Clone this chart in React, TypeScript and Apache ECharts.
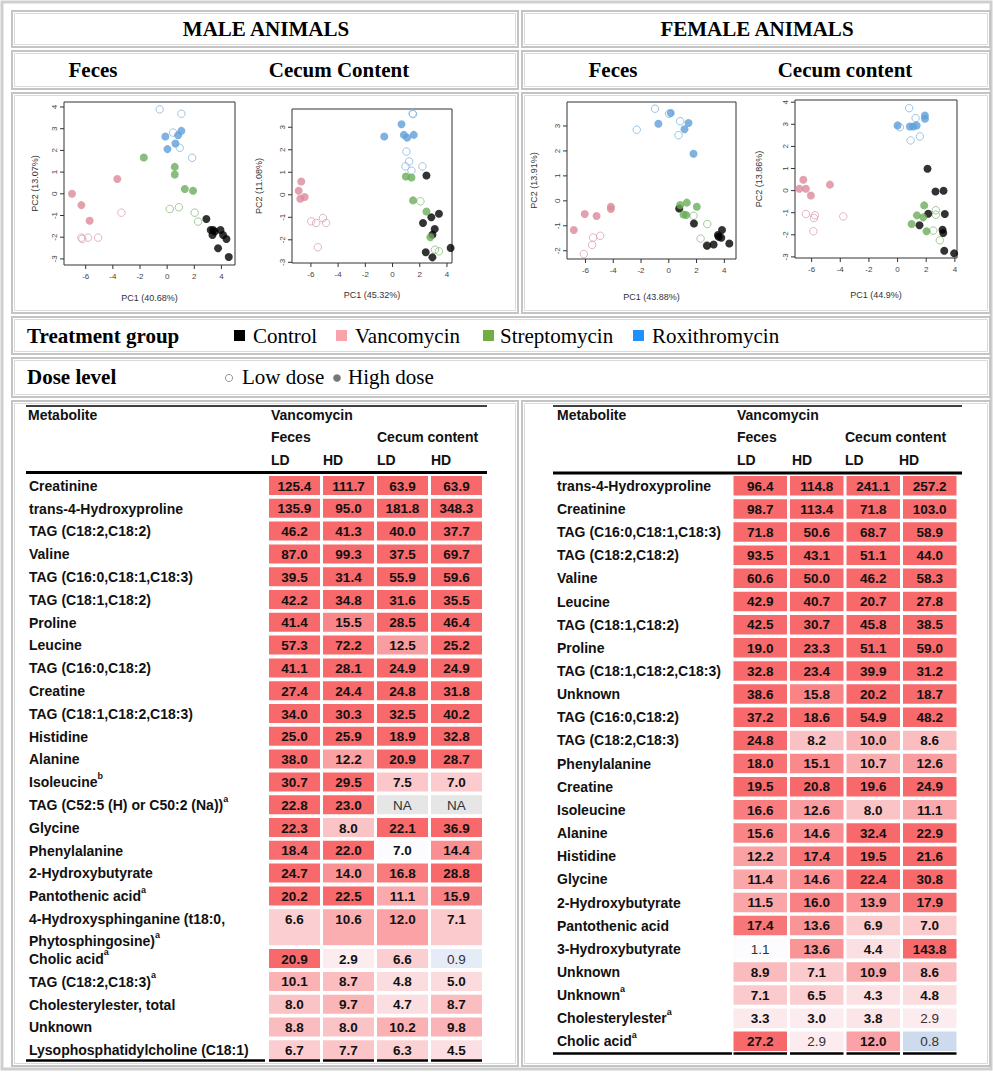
import React, { useEffect, useRef } from "react";
import * as echarts from "echarts";

// ---------------- PCA score plots: [PC1, PC2] ----------------
// Male, feces
const mfControl = [[2.89, -1.16], [3.21, -1.67], [3.39, -1.67], [3.34, -1.9], [3.93, -1.67], [4.12, -1.9], [4.37, -2.08], [3.75, -2.51], [4.54, -2.91], [3.5, -1.74]];
const mfVanHD = [[-7.01, 0.0], [-6.32, -0.52], [-5.71, -1.24], [-3.67, 0.68]];
const mfVanLD = [[-3.37, -0.87], [-6.32, -2.02], [-5.83, -2.02], [-5.09, -2.02], [-6.25, -2.08]];
const mfStrHD = [[-1.72, 1.67], [0.56, 1.24], [0.56, 0.89], [1.3, 0.22], [1.91, 0.14]];
const mfStrLD = [[0.19, -0.7], [0.86, -0.62], [2.03, -0.87], [2.28, -1.28]];
const mfRoxHD = [[-0.13, 2.64], [0.81, 2.7], [1.05, 2.9], [0.61, 2.32], [0.02, 2.06]];
const mfRoxLD = [[-0.55, 3.89], [1.05, 3.69], [0.44, 2.82], [0.93, 2.12], [1.84, 1.66]];
// Male, cecum content
const mcControl = [[2.49, 0.86], [3.41, -0.84], [2.85, -1.0], [2.24, -1.25], [3.1, -1.52], [2.93, -1.77], [2.44, -2.55], [2.93, -2.78], [4.27, -2.36]];
const mcVanHD = [[-6.71, 0.59], [-6.9, 0.18], [-6.78, -0.18], [-6.46, -0.1]];
const mcVanLD = [[-5.98, -1.18], [-5.61, -1.25], [-5.12, -1.03], [-4.88, -1.25], [-5.49, -2.33]];
const mcStrHD = [[0.98, 0.81], [1.39, 0.77], [1.51, -0.25], [2.49, -0.74], [2.78, -1.89]];
const mcStrLD = [[2.05, -0.29], [3.12, -2.44], [3.41, -2.51]];
const mcRoxHD = [[-0.61, 2.59], [0.66, 3.13], [0.83, 2.66], [1.07, 2.54], [1.56, 2.66]];
const mcRoxLD = [[1.51, 3.58], [1.47, 3.61], [1.02, 1.92], [1.22, 1.48], [0.95, 1.26], [1.39, 1.07], [2.2, 1.26]];
// Female, feces
const ffControl = [[0.75, -0.31], [1.81, -0.91], [2.75, -1.8], [3.23, -1.75], [3.54, -1.37], [3.78, -1.48], [3.83, -1.17], [4.36, -1.71], [3.59, -1.44]];
const ffVanHD = [[-6.84, -1.17], [-6.05, -0.53], [-5.2, -0.61], [-4.17, -0.24], [-4.17, -0.33]];
const ffVanLD = [[-5.45, -1.47], [-4.94, -1.4], [-5.52, -1.77], [-6.12, -2.13]];
const ffStrHD = [[0.82, -0.17], [1.3, -0.07], [2.02, -0.24], [1.06, -0.55], [1.25, -0.57]];
const ffStrLD = [[1.78, -0.6], [2.77, -0.93], [2.29, -1.51], [2.75, -1.77]];
const ffRoxHD = [[-0.75, 3.09], [0.14, 3.52], [1.42, 3.12], [1.13, 2.87], [1.78, 1.89]];
const ffRoxLD = [[-0.99, 3.69], [-2.31, 2.85], [0.02, 3.49], [0.82, 3.19], [0.7, 2.63]];
// Female, cecum content
const fcControl = [[2.09, 0.99], [2.65, -0.04], [3.21, -0.01], [2.14, -1.05], [3.3, -1.06], [1.53, -1.57], [3.14, -1.77], [3.19, -1.92], [3.26, -2.72], [3.95, -2.84]];
const fcVanHD = [[-6.58, 0.49], [-6.86, 0.08], [-6.4, 0.08], [-6.05, -0.22], [-4.72, 0.27]];
const fcVanLD = [[-6.4, -1.06], [-5.77, -1.12], [-5.84, -1.24], [-5.88, -1.84], [-3.79, -1.17]];
const fcStrHD = [[1.86, -0.67], [1.35, -1.12], [1.79, -1.21], [0.98, -1.51], [2.02, -1.84]];
const fcStrLD = [[2.67, -0.89], [2.67, -1.09], [2.49, -1.81], [2.95, -2.25]];
const fcRoxHD = [[0.0, 2.95], [0.86, 2.9], [1.09, 2.9], [1.33, 2.95], [1.91, 3.4], [1.91, 3.25]];
const fcRoxLD = [[0.81, 3.73], [1.26, 3.28], [0.16, 2.87], [1.56, 2.45], [0.91, 2.27]];

const PC_X_TICKS = [-6, -4, -2, 0, 2, 4];
const MF_Y_TICKS = [-3, -2, -1, 0, 1, 2, 3, 4];
const MC_Y_TICKS = [-3, -2, -1, 0, 1, 2, 3];
const FF_Y_TICKS = [-2, -1, 0, 1, 2, 3];
const FC_Y_TICKS = [-3, -2, -1, 0, 1, 2, 3, 4];
const PC1_TITLES = ["PC1 (40.68%)", "PC1 (45.32%)", "PC1 (43.88%)", "PC1 (44.9%)"];
const PC2_TITLES = ["PC2 (13.07%)", "PC2 (11.08%)", "PC2 (13.91%)", "PC2 (13.86%)"];

const SEX_HEADINGS = ["MALE ANIMALS", "FEMALE ANIMALS"];
const MALE_SAMPLE_TYPES = ["Feces", "Cecum Content"];
const FEMALE_SAMPLE_TYPES = ["Feces", "Cecum content"];
const TREATMENT_GROUPS = ["Control", "Vancomycin", "Streptomycin", "Roxithromycin"];
const DOSE_LEVELS = ["Low dose", "High dose"];

// ---------------- Tables (Vancomycin; Feces LD, HD; Cecum LD, HD) ----------------
const MALE_METABOLITES = [
  "Creatinine", "trans-4-Hydroxyproline", "TAG (C18:2,C18:2)", "Valine", "TAG (C16:0,C18:1,C18:3)",
  "TAG (C18:1,C18:2)", "Proline", "Leucine", "TAG (C16:0,C18:2)", "Creatine", "TAG (C18:1,C18:2,C18:3)",
  "Histidine", "Alanine", "Isoleucine", "TAG (C52:5 (H) or C50:2 (Na))", "Glycine", "Phenylalanine",
  "2-Hydroxybutyrate", "Pantothenic acid", "4-Hydroxysphinganine (t18:0,\nPhytosphingosine)", "Cholic acid",
  "TAG (C18:2,C18:3)", "Cholesterylester, total", "Unknown", "Lysophosphatidylcholine (C18:1)",
];
const MALE_SUPERSCRIPTS = ["", "", "", "", "", "", "", "", "", "", "", "", "", "b", "a", "", "", "", "a", "a", "a", "a", "", "", ""];
const MALE_FECES_LD = [125.4, 135.9, 46.2, 87.0, 39.5, 42.2, 41.4, 57.3, 41.1, 27.4, 34.0, 25.0, 38.0, 30.7, 22.8, 22.3, 18.4, 24.7, 20.2, 6.6, 20.9, 10.1, 8.0, 8.8, 6.7];
const MALE_FECES_HD = [111.7, 95.0, 41.3, 99.3, 31.4, 34.8, 15.5, 72.2, 28.1, 24.4, 30.3, 25.9, 12.2, 29.5, 23.0, 8.0, 22.0, 14.0, 22.5, 10.6, 2.9, 8.7, 9.7, 8.0, 7.7];
const MALE_CECUM_LD = [63.9, 181.8, 40.0, 37.5, 55.9, 31.6, 28.5, 12.5, 24.9, 24.8, 32.5, 18.9, 20.9, 7.5, null, 22.1, 7.0, 16.8, 11.1, 12.0, 6.6, 4.8, 4.7, 10.2, 6.3];
const MALE_CECUM_HD = [63.9, 348.3, 37.7, 69.7, 59.6, 35.5, 46.4, 25.2, 24.9, 31.8, 40.2, 32.8, 28.7, 7.0, null, 36.9, 14.4, 28.8, 15.9, 7.1, 0.9, 5.0, 8.7, 9.8, 4.5];
const MALE_NOT_BOLD = [[14, 2], [14, 3], [20, 3]];
const MALE_COLOUR_AS = [[16, 2, 1.0]];

const FEMALE_METABOLITES = [
  "trans-4-Hydroxyproline", "Creatinine", "TAG (C16:0,C18:1,C18:3)", "TAG (C18:2,C18:2)", "Valine", "Leucine",
  "TAG (C18:1,C18:2)", "Proline", "TAG (C18:1,C18:2,C18:3)", "Unknown", "TAG (C16:0,C18:2)", "TAG (C18:2,C18:3)",
  "Phenylalanine", "Creatine", "Isoleucine", "Alanine", "Histidine", "Glycine", "2-Hydroxybutyrate",
  "Pantothenic acid", "3-Hydroxybutyrate", "Unknown", "Unknown", "Cholesterylester", "Cholic acid",
];
const FEMALE_SUPERSCRIPTS = ["", "", "", "", "", "", "", "", "", "", "", "", "", "", "", "", "", "", "", "", "", "", "a", "a", "a"];
const FEMALE_FECES_LD = [96.4, 98.7, 71.8, 93.5, 60.6, 42.9, 42.5, 19.0, 32.8, 38.6, 37.2, 24.8, 18.0, 19.5, 16.6, 15.6, 12.2, 11.4, 11.5, 17.4, 1.1, 8.9, 7.1, 3.3, 27.2];
const FEMALE_FECES_HD = [114.8, 113.4, 50.6, 43.1, 50.0, 40.7, 30.7, 23.3, 23.4, 15.8, 18.6, 8.2, 15.1, 20.8, 12.6, 14.6, 17.4, 14.6, 16.0, 13.6, 13.6, 7.1, 6.5, 3.0, 2.9];
const FEMALE_CECUM_LD = [241.1, 71.8, 68.7, 51.1, 46.2, 20.7, 45.8, 51.1, 39.9, 20.2, 54.9, 10.0, 10.7, 19.6, 8.0, 32.4, 19.5, 22.4, 13.9, 6.9, 4.4, 10.9, 4.3, 3.8, 12.0];
const FEMALE_CECUM_HD = [257.2, 103.0, 58.9, 44.0, 58.3, 27.8, 38.5, 59.0, 31.2, 18.7, 48.2, 8.6, 12.6, 24.9, 11.1, 22.9, 21.6, 30.8, 17.9, 7.0, 143.8, 8.6, 4.8, 2.9, 0.8];
const FEMALE_NOT_BOLD = [[20, 0], [23, 3], [24, 1], [24, 3]];
const FEMALE_COLOUR_AS: number[][] = [];

const TABLE_HEAD = ["Metabolite", "Vancomycin", "Feces", "Cecum content", "LD", "HD"];

// ---------------- styles & layout ----------------
const SERIF = "'Liberation Serif', 'Times New Roman', serif";
const SANS = "'Liberation Sans', Arial, Helvetica, sans-serif";
const SCALE_COLOURS = ["#5a8ac6", "#fcfcff", "#f8696b"];

const shadeOf = (v: number) => (v >= 1 ? Math.min((v - 1) / 18, 1) : -Math.min((1 - v) / 0.7, 1));
const colourOf = (s: number) => echarts.color.lerp((s + 1) / 2, SCALE_COLOURS) as string;

const SET_STYLES = [
  { open: false, color: "#000000" },
  { open: false, color: "#dc8a9b" },
  { open: true, color: "#d9a3b4" },
  { open: false, color: "#6cad5a" },
  { open: true, color: "#8dbd7d" },
  { open: false, color: "#5f9fda" },
  { open: true, color: "#86b5df" },
];

const PANELS = [
  { grid: { left: 64, top: 102, width: 171, height: 163 }, x: [-7.6, 5.0], y: [-3.28, 4.23], yTicks: MF_Y_TICKS, xGap: 28, yGap: 25,
    sets: [mfControl, mfVanHD, mfVanLD, mfStrHD, mfStrLD, mfRoxHD, mfRoxLD] },
  { grid: { left: 292, top: 109, width: 160, height: 154 }, x: [-7.39, 4.37], y: [-3.03, 3.81], yTicks: MC_Y_TICKS, xGap: 27, yGap: 29,
    sets: [mcControl, mcVanHD, mcVanLD, mcStrHD, mcStrLD, mcRoxHD, mcRoxLD] },
  { grid: { left: 567, top: 102, width: 169, height: 157 }, x: [-7.33, 4.84], y: [-2.33, 3.96], yTicks: FF_Y_TICKS, xGap: 33, yGap: 29,
    sets: [ffControl, ffVanHD, ffVanLD, ffStrHD, ffStrLD, ffRoxHD, ffRoxLD] },
  { grid: { left: 795, top: 100, width: 162, height: 158 }, x: [-7.16, 4.15], y: [-3.05, 4.1], yTicks: FC_Y_TICKS, xGap: 32, yGap: 32,
    sets: [fcControl, fcVanHD, fcVanLD, fcStrHD, fcStrLD, fcRoxHD, fcRoxLD] },
];

const TICK_LEN = 4;

function buildOption() {
  const grid: any[] = [];
  const xAxis: any[] = [];
  const yAxis: any[] = [];
  const series: any[] = [];

  PANELS.forEach((p, i) => {
    grid.push({ ...p.grid, show: true, borderColor: "#333", borderWidth: 1, backgroundColor: "#fff", outerBoundsMode: "none" });
    xAxis.push({
      type: "value", gridIndex: i, min: p.x[0], max: p.x[1],
      name: PC1_TITLES[i], nameLocation: "middle", nameGap: p.xGap,
      nameTextStyle: { fontSize: 9, color: "#333", fontFamily: SANS },
      axisLine: { show: false, onZero: false }, splitLine: { show: false },
      axisTick: { show: false },
      axisLabel: { customValues: PC_X_TICKS, fontSize: 8, color: "#444", margin: 7, fontFamily: SANS },
    });
    yAxis.push({
      type: "value", gridIndex: i, min: p.y[0], max: p.y[1],
      name: PC2_TITLES[i], nameLocation: "middle", nameGap: p.yGap,
      nameTextStyle: { fontSize: 9, color: "#333", fontFamily: SANS },
      axisLine: { show: false, onZero: false }, splitLine: { show: false },
      axisTick: { show: false },
      axisLabel: { customValues: p.yTicks, fontSize: 8, color: "#444", margin: 6, rotate: 90, fontFamily: SANS },
    });
    // tick marks drawn from the tick arrays through the axis scales (outside the plot box)
    series.push({
      type: "custom", xAxisIndex: i, yAxisIndex: i, silent: true, clip: false, z: 3,
      data: PC_X_TICKS.map((v) => [v, p.y[0]]),
      renderItem: (params: any, api: any) => {
        const c = api.coord([api.value(0), api.value(1)]);
        return { type: "line", shape: { x1: c[0], y1: c[1], x2: c[0], y2: c[1] + TICK_LEN }, style: { stroke: "#333", lineWidth: 1 } };
      },
    });
    series.push({
      type: "custom", xAxisIndex: i, yAxisIndex: i, silent: true, clip: false, z: 3,
      data: p.yTicks.map((v) => [p.x[0], v]),
      renderItem: (params: any, api: any) => {
        const c = api.coord([api.value(0), api.value(1)]);
        return { type: "line", shape: { x1: c[0] - TICK_LEN, y1: c[1], x2: c[0], y2: c[1] }, style: { stroke: "#333", lineWidth: 1 } };
      },
    });
    [2, 4, 6, 0, 1, 3, 5].forEach((k) => {
      const st = SET_STYLES[k];
      series.push({
        type: "scatter", xAxisIndex: i, yAxisIndex: i, data: p.sets[k], symbol: "circle", symbolSize: st.open ? 7.5 : 8,
        itemStyle: st.open
          ? { color: "rgba(255,255,255,0)", borderColor: st.color, borderWidth: 1 }
          : { color: st.color, borderWidth: 0 },
        silent: true,
      });
    });
  });

  const tables = [
    { names: MALE_METABOLITES, sup: MALE_SUPERSCRIPTS, cols: [MALE_FECES_LD, MALE_FECES_HD, MALE_CECUM_LD, MALE_CECUM_HD], notBold: MALE_NOT_BOLD, colourAs: MALE_COLOUR_AS,
      left: 267.5, width: 216, top: 476, pitch: 22.8, gap: 3.8, labelX: 29 },
    { names: FEMALE_METABOLITES, sup: FEMALE_SUPERSCRIPTS, cols: [FEMALE_FECES_LD, FEMALE_FECES_HD, FEMALE_CECUM_LD, FEMALE_CECUM_HD], notBold: FEMALE_NOT_BOLD, colourAs: FEMALE_COLOUR_AS,
      left: 732, width: 226, top: 476, pitch: 23.15, gap: 3.65, labelX: 557 },
  ];

  tables.forEach((t, ti) => {
    const gi = PANELS.length + ti;
    const rowH = t.names.map((n) => (n.includes("\n") ? 1.75 : 1));
    const tops: number[] = [];
    let acc = 0;
    rowH.forEach((h) => { tops.push(acc); acc += h; });
    grid.push({ left: t.left, top: t.top, width: t.width, height: acc * t.pitch, show: false, outerBoundsMode: "none" });
    xAxis.push({ type: "value", gridIndex: gi, min: 0, max: 4, show: false, axisLine: { onZero: false } });
    yAxis.push({ type: "value", gridIndex: gi, min: 0, max: acc, inverse: true, show: false, axisLine: { onZero: false } });

    const cells: number[][] = [];
    const meta: { text: string; na: boolean; bold: boolean; fill: string }[] = [];
    t.names.forEach((_, r) => {
      t.cols.forEach((col, c) => {
        const v = col[r];
        const ov = t.colourAs.find((o) => o[0] === r && o[1] === c);
        const cv = ov ? ov[2] : v;
        const shade = v == null ? 0 : shadeOf(cv as number);
        cells.push([c, tops[r], rowH[r], shade]);
        meta.push({
          text: v == null ? "NA" : (v as number).toFixed(1),
          na: v == null,
          bold: v != null && !t.notBold.some((o) => o[0] === r && o[1] === c),
          fill: v == null ? "#e6e6e6" : colourOf(shade),
        });
      });
    });
    series.push({
      type: "custom", xAxisIndex: gi, yAxisIndex: gi, data: cells, silent: true,
      renderItem: (params: any, api: any) => {
        const c = api.value(0), top = api.value(1), h = api.value(2);
        const p0 = api.coord([c, top]);
        const p1 = api.coord([c + 1, top + h]);
        const x0 = p0[0] + 1.5;
        const w = p1[0] - p0[0] - 3;
        const y0 = p0[1];
        const hh = p1[1] - p0[1] - t.gap;
        const m = meta[params.dataIndex];
        return {
          type: "group",
          children: [
            { type: "rect", shape: { x: x0, y: y0, width: w, height: hh }, style: { fill: m.fill } },
            { type: "text", style: { x: x0 + w / 2, y: y0 + 10, text: m.text, align: "center", verticalAlign: "middle",
              fontSize: 13.5, fontWeight: m.bold ? "bold" : "normal", fontFamily: SANS, fill: m.bold ? "#111" : "#333" } },
          ],
        };
      },
    });
    series.push({
      type: "custom", xAxisIndex: gi, yAxisIndex: gi, silent: true,
      data: tops.map((tp, r) => [0, tp, rowH[r]]),
      renderItem: (params: any, api: any) => {
        const p = api.coord([0, api.value(1)]);
        const r = params.dataIndex;
        const lines = t.names[r].split("\n");
        const text = lines
          .map((l, i) => `{n|${l}}` + (i === lines.length - 1 && t.sup[r] ? `{s|${t.sup[r]}}` : ""))
          .join("\n");
        return {
          type: "text",
          style: {
            x: t.labelX, y: p[1] - 1.2, text, align: "left", verticalAlign: "top",
            fontSize: 14, fontWeight: "bold", fontFamily: SANS, fill: "#111",
            rich: {
              n: { fontSize: 14, fontWeight: "bold", fontFamily: SANS, lineHeight: 22, fill: "#111" },
              s: { fontSize: 9, fontWeight: "bold", fontFamily: SANS, lineHeight: 11, verticalAlign: "top", fill: "#111" },
            },
          },
        };
      },
    });
  });

  // ---------- graphic: frames, headings, legends, table rules ----------
  const graphic: any[] = [];
  graphic.push({ type: "rect", shape: { x: 2, y: 2, width: 989, height: 1067 }, style: { fill: "none", stroke: "#cfcfcf", lineWidth: 3 }, z: 0 });
  const boxes = [
    [12, 11, 506, 36], [522, 11, 468, 36],
    [12, 51, 506, 38], [522, 51, 468, 38],
    [12, 93, 506, 220], [522, 93, 468, 220],
    [12, 317, 978, 37],
    [12, 358, 978, 39],
    [12, 401, 506, 665], [522, 401, 468, 665],
  ];
  boxes.forEach(([x, y, w, h]) => {
    graphic.push({ type: "rect", shape: { x, y, width: w, height: h }, style: { fill: "none", stroke: "#c4c4c4", lineWidth: 2 }, z: 0 });
    graphic.push({ type: "rect", shape: { x: x + 2.5, y: y + 2.5, width: w - 5, height: h - 5 }, style: { fill: "none", stroke: "#dadada", lineWidth: 1 }, z: 0 });
  });

  const serifText = (text: string, x: number, y: number, align: string, bold: boolean) => ({
    type: "text", x, y, z: 5,
    style: { text, align, verticalAlign: "middle", fontSize: 21, fontWeight: bold ? "bold" : "normal", fontFamily: SERIF, fill: "#000" },
  });
  graphic.push(serifText(SEX_HEADINGS[0], 266, 29, "center", true));
  graphic.push(serifText(SEX_HEADINGS[1], 757, 29, "center", true));
  graphic.push(serifText(MALE_SAMPLE_TYPES[0], 93, 70, "center", true));
  graphic.push(serifText(MALE_SAMPLE_TYPES[1], 339, 70, "center", true));
  graphic.push(serifText(FEMALE_SAMPLE_TYPES[0], 613, 70, "center", true));
  graphic.push(serifText(FEMALE_SAMPLE_TYPES[1], 845, 70, "center", true));

  graphic.push(serifText("Treatment group", 27, 336, "left", true));
  const legSq = [234, 336, 483, 633];
  const legTx = [253, 355, 500, 652];
  const legCol = ["#000000", "#f8a2a9", "#70ad47", "#1e90ff"];
  TREATMENT_GROUPS.forEach((g, i) => {
    graphic.push({ type: "rect", z: 5, shape: { x: legSq[i], y: 330, width: 11, height: 11 }, style: { fill: legCol[i] } });
    graphic.push(serifText(g, legTx[i], 336, "left", false));
  });
  graphic.push(serifText("Dose level", 27, 377, "left", true));
  graphic.push({ type: "circle", z: 5, shape: { cx: 229, cy: 378, r: 3.6 }, style: { fill: "#fff", stroke: "#999", lineWidth: 1 } });
  graphic.push(serifText(DOSE_LEVELS[0], 242, 377, "left", false));
  graphic.push({ type: "circle", z: 5, shape: { cx: 337, cy: 378, r: 3.8 }, style: { fill: "#777" } });
  graphic.push(serifText(DOSE_LEVELS[1], 348, 377, "left", false));

  const sansBold = (text: string, x: number, y: number) => ({
    type: "text", x, y, z: 5,
    style: { text, align: "left", verticalAlign: "middle", fontSize: 14, fontWeight: "bold", fontFamily: SANS, fill: "#111" },
  });
  const heads = [
    { mx: 28, cx: [271, 323, 377, 431], line: [26, 487], top: 406, mid: 472.5, bottom: 1060.5, labEnd: 265 },
    { mx: 557, cx: [737, 792, 845, 899], line: [553, 962], top: 406, mid: 473, bottom: 1053.5, labEnd: 732 },
  ];
  heads.forEach((hd, ti) => {
    graphic.push(sansBold(TABLE_HEAD[0], hd.mx, 415));
    graphic.push(sansBold(TABLE_HEAD[1], hd.cx[0], 415));
    graphic.push(sansBold(TABLE_HEAD[2], hd.cx[0], 437));
    graphic.push(sansBold(TABLE_HEAD[3], hd.cx[2], 437));
    hd.cx.forEach((x, i) => graphic.push(sansBold(TABLE_HEAD[4 + (i % 2)], x, 460)));
    graphic.push({ type: "line", z: 5, shape: { x1: hd.line[0], y1: hd.top, x2: hd.line[1], y2: hd.top }, style: { stroke: "#000", lineWidth: 1.6 } });
    graphic.push({ type: "line", z: 5, shape: { x1: hd.line[0], y1: hd.mid, x2: hd.line[1], y2: hd.mid }, style: { stroke: "#000", lineWidth: 3 } });
    graphic.push({ type: "line", z: 5, shape: { x1: hd.line[0], y1: hd.bottom, x2: hd.labEnd, y2: hd.bottom }, style: { stroke: "#000", lineWidth: 2.5 } });
    const t = tables[ti];
    const bw = t.width / 4;
    for (let c = 0; c < 4; c++) {
      const x1 = t.left + c * bw + 1.5;
      graphic.push({ type: "line", z: 5, shape: { x1, y1: hd.bottom, x2: x1 + bw - 3, y2: hd.bottom }, style: { stroke: "#000", lineWidth: 2.5 } });
    }
  });

  return {
    animation: false,
    backgroundColor: "#ffffff",
    grid, xAxis, yAxis, series, graphic,
  };
}

export default function App() {
  const ref = useRef<HTMLDivElement>(null);
  useEffect(() => {
    if (!ref.current) return;
    const chart = echarts.init(ref.current, undefined, { renderer: "svg" });
    chart.setOption(buildOption() as any);
    return () => chart.dispose();
  }, []);
  return <div ref={ref} style={{ position: "fixed", left: 0, top: 0, width: 993, height: 1072 }} />;
}
